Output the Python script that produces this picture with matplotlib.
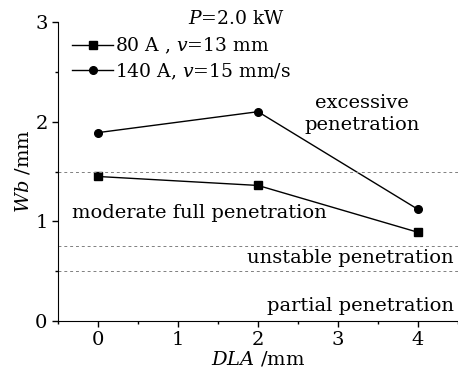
import matplotlib
matplotlib.use("Agg")
import matplotlib.pyplot as plt
from matplotlib.ticker import MultipleLocator

# data
dla = [0, 2, 4]
wb_80a = [1.45, 1.36, 0.89]
wb_140a = [1.89, 2.10, 1.12]
labels = ["80 A , $v$=13 mm", "140 A, $v$=15 mm/s"]
bounds = [1.5, 0.75, 0.5]

plt.rcParams["font.family"] = "DejaVu Serif"
plt.rcParams["mathtext.fontset"] = "dejavuserif"
plt.rcParams["font.size"] = 14

fig = plt.figure(figsize=(4.58, 3.74), dpi=100)
ax = fig.add_axes([58 / 458, 1 - 321 / 374, 1 - 58 / 458, 299 / 374])

ax.plot(dla, wb_80a, "-s", color="black", lw=1, ms=5.5, label=labels[0])
ax.plot(dla, wb_140a, "-o", color="black", lw=1, ms=5.5, label=labels[1])
for b in bounds:
    ax.axhline(b, color="gray", ls=(0, (3, 3)), lw=0.7)

ax.text(3.3, 2.08, "excessive\npenetration", ha="center", va="center", linespacing=1.3)
ax.text(-0.33, 1.08, "moderate full penetration", ha="left", va="center")
ax.text(4.45, 0.63, "unstable penetration", ha="right", va="center")
ax.text(4.45, 0.15, "partial penetration", ha="right", va="center")
ax.text(0.447, 1.01, "$P$=2.0 kW", transform=ax.transAxes, ha="center", va="center",
        fontsize=13.5)

ax.set_xlim(-0.5, 4.5)
ax.set_ylim(0, 3)
ax.xaxis.set_major_locator(MultipleLocator(1))
ax.xaxis.set_minor_locator(MultipleLocator(0.5))
ax.yaxis.set_major_locator(MultipleLocator(1))
ax.yaxis.set_minor_locator(MultipleLocator(0.5))
ax.tick_params(which="major", length=4, width=1, labelsize=14)
ax.tick_params(which="minor", length=2.5, width=1)
ax.spines["top"].set_visible(False)
ax.spines["right"].set_visible(False)
ax.set_xlabel("$DLA$ /mm", labelpad=0)
ax.set_ylabel("$Wb$ /mm", labelpad=2)

leg = ax.legend(loc="upper left", frameon=False, fontsize=13.5,
                handlelength=2.2, handletextpad=0.1, borderaxespad=0.0,
                labelspacing=0.3, borderpad=0.0, bbox_to_anchor=(0.035, 0.955))

fig.savefig("out.png", dpi=100)
